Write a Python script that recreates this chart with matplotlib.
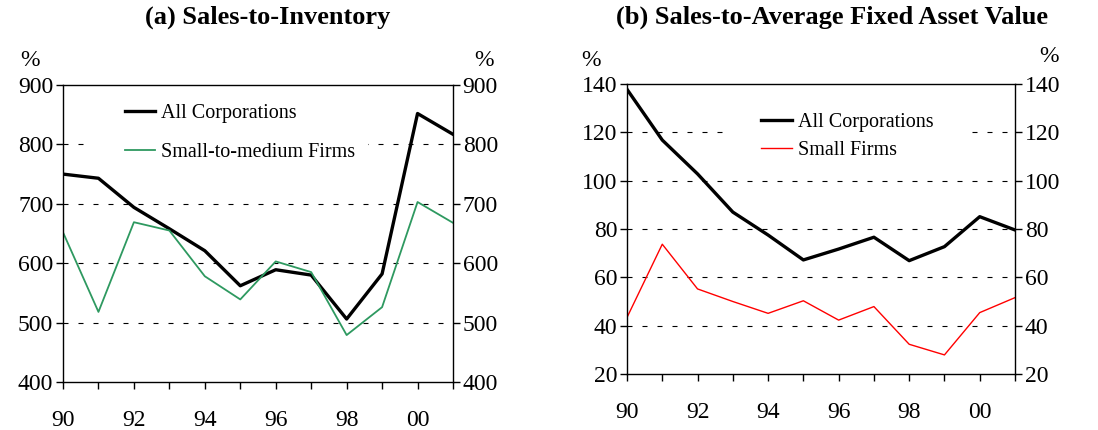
import numpy as np
import matplotlib.pyplot as plt
from matplotlib.patches import Rectangle

plt.rcParams['font.family'] = ['Liberation Serif', 'DejaVu Serif']

years = np.arange(1990, 2002)
tick_years = [1990, 1992, 1994, 1996, 1998, 2000]

# (a) sales-to-inventory, %
inv_all = [750, 743, 694, 658, 621, 562, 589, 580, 506, 582, 852, 817]
inv_small = [652, 518, 669, 655, 578, 539, 603, 585, 479, 526, 703, 668]

# (b) sales-to-average fixed asset value, %
fa_all = [137.8, 116.8, 102.8, 87.0, 77.5, 67.2, 71.7, 76.6, 66.9, 72.7, 85.1, 79.6]
fa_small = [43.4, 73.7, 55.2, 50.0, 45.1, 50.3, 42.3, 47.9, 32.3, 27.9, 45.4, 51.6]

W, H = 1098, 430
fig = plt.figure(figsize=(W / 100, H / 100), dpi=100)
ax1 = fig.add_axes([63 / W, 1 - 382 / H, 390 / W, 297 / H])
ax2 = fig.add_axes([627 / W, 1 - 374 / H, 388 / W, 290 / H])


def style(ax, lo, hi, step, grid_vals):
    ax.set_xlim(1990, 2001)
    ax.set_ylim(lo, hi)
    ax.set_xticks(years)
    ax.set_xticklabels([str(y)[2:] if y in tick_years else '' for y in years])
    ax.set_yticks(np.arange(lo, hi + 1, step))
    ax.tick_params(axis='both', direction='out', length=5, width=1, labelsize=17, color='black')
    ax.tick_params(axis='x', pad=15)
    ax.tick_params(axis='y', left=True, right=True, labelleft=True, labelright=True, pad=2)
    for s in ax.spines.values():
        s.set_linewidth(1)
        s.set_zorder(5)
    for g in grid_vals:
        ax.axhline(g, color='black', lw=0.8, ls=(0, (4.5, 9)), zorder=0)


style(ax1, 400, 900, 100, [500, 600, 700, 800])
style(ax2, 20, 140, 20, [40, 60, 80, 100, 120])

# white area behind the legends
ax1.add_patch(Rectangle((0.069, 0.70), 0.713, 0.29, transform=ax1.transAxes,
                        facecolor='white', edgecolor='none', zorder=1))
ax2.add_patch(Rectangle((0.247, 0.72), 0.624, 0.27, transform=ax2.transAxes,
                        facecolor='white', edgecolor='none', zorder=1))

ax1.plot(years, inv_all, color='black', lw=2.4, label='All Corporations', zorder=3)
ax1.plot(years, inv_small, color='#2e9960', lw=1.3, label='Small-to-medium Firms', zorder=3)
ax2.plot(years, fa_all, color='black', lw=2.4, label='All Corporations', zorder=3)
ax2.plot(years, fa_small, color='#ff0000', lw=1.0, label='Small Firms', zorder=3)

for ax, anchor, spacing in [(ax1, (0.118, 0.99), 1.0), (ax2, (0.305, 0.955), 0.45)]:
    ax.legend(loc='upper left', bbox_to_anchor=anchor, fontsize=14.5, frameon=False,
              handlelength=1.5, handletextpad=0.3, labelspacing=spacing, borderpad=0.3)

fig.text(268 / W, 1 - 17 / H, '(a) Sales-to-Inventory', fontsize=19, fontweight='bold',
         ha='center', va='center')
fig.text(832 / W, 1 - 17 / H, '(b) Sales-to-Average Fixed Asset Value', fontsize=19,
         fontweight='bold', ha='center', va='center')

for x, y in [(30, 60), (484, 60), (591, 60), (1049, 57)]:
    fig.text(x / W, 1 - y / H, '%', fontsize=17, ha='center', va='center')

fig.savefig('out.png', dpi=100)
